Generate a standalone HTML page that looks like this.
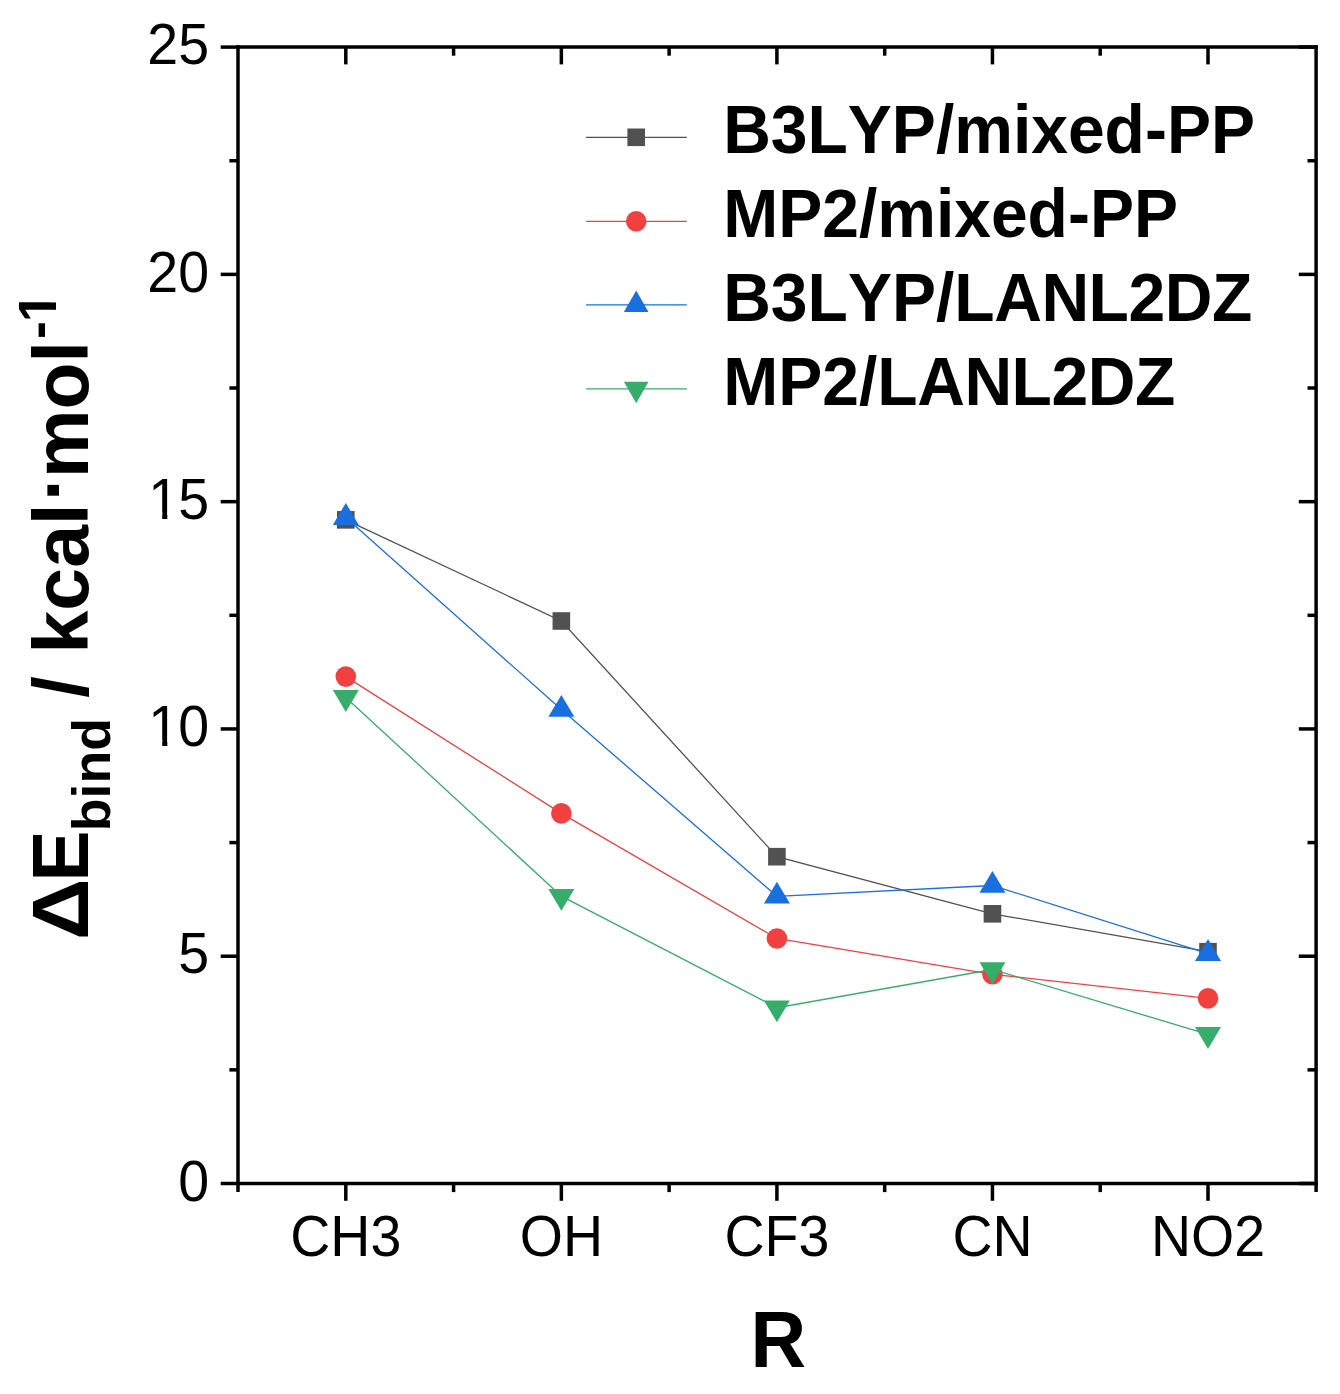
<!DOCTYPE html>
<html lang="en">
<head>
<meta charset="utf-8">
<title>Binding energy vs substituent R</title>
<style>
html,body{margin:0;padding:0;background:#fff;}
body{width:1340px;height:1394px;overflow:hidden;}
svg{display:block;}
text{font-family:"Liberation Sans",Arial,Helvetica,sans-serif;fill:#000;font-kerning:none;}
.tick{font-size:55.5px;}
.bold{font-weight:bold;}
.leg{font-size:66px;font-weight:bold;}
.title{font-size:77px;font-weight:bold;}
.ss{font-size:53.7px;font-weight:bold;}
</style>
</head>
<body>
<svg width="1340" height="1394" viewBox="0 0 1340 1394">
<rect x="0" y="0" width="1340" height="1394" fill="#ffffff"/>
<g id="series" fill="none">
<polyline points="345.8,519.85 561.35,621 776.9,856.7 992.45,913.8 1208,951.7" stroke="#515151" stroke-width="1.3" fill="none"/>
<rect x="337" y="511.05" width="17.6" height="17.6" fill="#515151"/>
<rect x="552.55" y="612.2" width="17.6" height="17.6" fill="#515151"/>
<rect x="768.1" y="847.9" width="17.6" height="17.6" fill="#515151"/>
<rect x="983.65" y="905" width="17.6" height="17.6" fill="#515151"/>
<rect x="1199.2" y="942.9" width="17.6" height="17.6" fill="#515151"/>
<polyline points="345.8,676.6 561.35,813.4 776.9,938.5 992.45,974.3 1208,998.4" stroke="#F14040" stroke-width="1.3" fill="none"/>
<circle cx="345.8" cy="676.6" r="10.3" fill="#F14040"/>
<circle cx="561.35" cy="813.4" r="10.3" fill="#F14040"/>
<circle cx="776.9" cy="938.5" r="10.3" fill="#F14040"/>
<circle cx="992.45" cy="974.3" r="10.3" fill="#F14040"/>
<circle cx="1208" cy="998.4" r="10.3" fill="#F14040"/>
<polyline points="345.8,517.6 561.35,709.5 776.9,896.3 992.45,885.5 1208,953.6" stroke="#1A6FDF" stroke-width="1.3" fill="none"/>
<polygon points="345.8,503 358.8,524.9 332.8,524.9" fill="#1A6FDF"/>
<polygon points="561.35,694.9 574.35,716.8 548.35,716.8" fill="#1A6FDF"/>
<polygon points="776.9,881.7 789.9,903.6 763.9,903.6" fill="#1A6FDF"/>
<polygon points="992.45,870.9 1005.45,892.8 979.45,892.8" fill="#1A6FDF"/>
<polygon points="1208,939 1221,960.9 1195,960.9" fill="#1A6FDF"/>
<polyline points="345.8,697.4 561.35,896.2 776.9,1007.7 992.45,969.5 1208,1034.4" stroke="#37AD6B" stroke-width="1.3" fill="none"/>
<polygon points="345.8,712 358.8,690.1 332.8,690.1" fill="#37AD6B"/>
<polygon points="561.35,910.8 574.35,888.9 548.35,888.9" fill="#37AD6B"/>
<polygon points="776.9,1022.3 789.9,1000.4 763.9,1000.4" fill="#37AD6B"/>
<polygon points="992.45,984.1 1005.45,962.2 979.45,962.2" fill="#37AD6B"/>
<polygon points="1208,1049 1221,1027.1 1195,1027.1" fill="#37AD6B"/>
</g>
<g id="axes" stroke="#000" stroke-width="3.5" fill="none" stroke-linecap="butt">
<line x1="236.25" y1="47.1" x2="1317.85" y2="47.1"/>
<line x1="236.25" y1="1183.5" x2="1317.85" y2="1183.5"/>
<line x1="238" y1="45.35" x2="238" y2="1192.1"/>
<line x1="1316.1" y1="45.35" x2="1316.1" y2="1192.1"/>
<line x1="345.8" y1="1183.5" x2="345.8" y2="1200.8"/>
<line x1="345.8" y1="47.1" x2="345.8" y2="64.4"/>
<line x1="561.35" y1="1183.5" x2="561.35" y2="1200.8"/>
<line x1="561.35" y1="47.1" x2="561.35" y2="64.4"/>
<line x1="776.9" y1="1183.5" x2="776.9" y2="1200.8"/>
<line x1="776.9" y1="47.1" x2="776.9" y2="64.4"/>
<line x1="992.45" y1="1183.5" x2="992.45" y2="1200.8"/>
<line x1="992.45" y1="47.1" x2="992.45" y2="64.4"/>
<line x1="1208" y1="1183.5" x2="1208" y2="1200.8"/>
<line x1="1208" y1="47.1" x2="1208" y2="64.4"/>
<line x1="453.58" y1="1183.5" x2="453.58" y2="1192.1"/>
<line x1="453.58" y1="47.1" x2="453.58" y2="55.7"/>
<line x1="669.12" y1="1183.5" x2="669.12" y2="1192.1"/>
<line x1="669.12" y1="47.1" x2="669.12" y2="55.7"/>
<line x1="884.68" y1="1183.5" x2="884.68" y2="1192.1"/>
<line x1="884.68" y1="47.1" x2="884.68" y2="55.7"/>
<line x1="1100.22" y1="1183.5" x2="1100.22" y2="1192.1"/>
<line x1="1100.22" y1="47.1" x2="1100.22" y2="55.7"/>
<line x1="220.7" y1="1183.5" x2="238" y2="1183.5"/>
<line x1="1298.8" y1="1183.5" x2="1316.1" y2="1183.5"/>
<line x1="220.7" y1="956.22" x2="238" y2="956.22"/>
<line x1="1298.8" y1="956.22" x2="1316.1" y2="956.22"/>
<line x1="220.7" y1="728.94" x2="238" y2="728.94"/>
<line x1="1298.8" y1="728.94" x2="1316.1" y2="728.94"/>
<line x1="220.7" y1="501.66" x2="238" y2="501.66"/>
<line x1="1298.8" y1="501.66" x2="1316.1" y2="501.66"/>
<line x1="220.7" y1="274.38" x2="238" y2="274.38"/>
<line x1="1298.8" y1="274.38" x2="1316.1" y2="274.38"/>
<line x1="220.7" y1="47.1" x2="238" y2="47.1"/>
<line x1="1298.8" y1="47.1" x2="1316.1" y2="47.1"/>
<line x1="229.4" y1="1069.86" x2="238" y2="1069.86"/>
<line x1="1307.5" y1="1069.86" x2="1316.1" y2="1069.86"/>
<line x1="229.4" y1="842.58" x2="238" y2="842.58"/>
<line x1="1307.5" y1="842.58" x2="1316.1" y2="842.58"/>
<line x1="229.4" y1="615.3" x2="238" y2="615.3"/>
<line x1="1307.5" y1="615.3" x2="1316.1" y2="615.3"/>
<line x1="229.4" y1="388.02" x2="238" y2="388.02"/>
<line x1="1307.5" y1="388.02" x2="1316.1" y2="388.02"/>
<line x1="229.4" y1="160.74" x2="238" y2="160.74"/>
<line x1="1307.5" y1="160.74" x2="1316.1" y2="160.74"/>
</g>
<g id="ylabels" class="tick" text-anchor="end">
<text transform="translate(209,1200.7) scale(1,1.04)">0</text>
<text transform="translate(209,973.42) scale(1,1.04)">5</text>
<text text-anchor="start" transform="translate(147.27,746.14) scale(1,1.04)"><tspan dx="1.1">1</tspan><tspan dx="-1.1">0</tspan></text>
<text text-anchor="start" transform="translate(147.27,518.86) scale(1,1.04)"><tspan dx="1.1">1</tspan><tspan dx="-1.1">5</tspan></text>
<text transform="translate(209,291.58) scale(1,1.04)">20</text>
<text transform="translate(209,64.3) scale(1,1.04)">25</text>
</g>
<g id="serifmask" fill="#fff">
<rect x="150.87" y="739.94" width="11.36" height="7.5"/>
<rect x="167.33" y="739.94" width="10.74" height="7.5"/>
<rect x="150.87" y="512.66" width="11.36" height="7.5"/>
<rect x="167.33" y="512.66" width="10.74" height="7.5"/>
</g>
<g id="xlabels" class="tick" text-anchor="middle">
<text transform="translate(345.8,1256) scale(1,1.04)">CH3</text>
<text transform="translate(561.35,1256) scale(1,1.04)">OH</text>
<text transform="translate(776.9,1256) scale(1,1.04)">CF3</text>
<text transform="translate(992.45,1256) scale(1,1.04)">CN</text>
<text transform="translate(1208,1256) scale(1,1.04)">NO2</text>
</g>
<text class="title" text-anchor="middle" transform="translate(778.4,1367) scale(1,1.04)">R</text>
<g id="ytitle" transform="translate(88,940) rotate(-90)">
<text class="title" transform="scale(1.112,1.04)">Δ</text>
<text class="title" transform="translate(58.2,0) scale(1,1.04)">E</text>
<text class="ss" x="108.8" y="21.7">bind</text>
<text class="title" x="242.3" y="0">/</text>
<text class="title" x="286.5" y="0">kcal<tspan dx="2.7" dy="-9">·</tspan><tspan dx="-2.7" dy="9">mol</tspan></text>
<text class="ss" x="601" y="-32">-<tspan dx="-1.2">1</tspan></text>
<rect fill="#fff" x="620.08" y="-38" width="10.13" height="7"/>
<rect fill="#fff" x="637.58" y="-38" width="10" height="7"/>
</g>
<g id="legend">
<line x1="586.1" y1="137.3" x2="686.8" y2="137.3" stroke="#515151" stroke-width="1.3"/>
<rect x="627.4" y="128.5" width="17.6" height="17.6" fill="#515151"/>
<text class="leg" transform="translate(723.2,153) scale(1,1.03)">B3LYP/mixed-PP</text>
<line x1="586.1" y1="221.3" x2="686.8" y2="221.3" stroke="#F14040" stroke-width="1.3"/>
<circle cx="636.2" cy="221.3" r="10.3" fill="#F14040"/>
<text class="leg" transform="translate(723.2,236.9) scale(1,1.03)">MP2/mixed-PP</text>
<line x1="586.1" y1="304.9" x2="686.8" y2="304.9" stroke="#1A6FDF" stroke-width="1.3"/>
<polygon points="636.2,290.57 648.5,312.07 623.9,312.07" fill="#1A6FDF"/>
<text class="leg" transform="translate(723.2,320.7) scale(1,1.04)">B3LYP/<tspan letter-spacing="-0.42">LANL2DZ</tspan></text>
<line x1="586.1" y1="388.9" x2="686.8" y2="388.9" stroke="#37AD6B" stroke-width="1.3"/>
<polygon points="636.2,403.23 648.5,381.73 623.9,381.73" fill="#37AD6B"/>
<text class="leg" transform="translate(723.2,404.5) scale(1,1.04)">MP2/<tspan letter-spacing="-0.42">LANL2DZ</tspan></text>
</g>
</svg>
</body>
</html>
